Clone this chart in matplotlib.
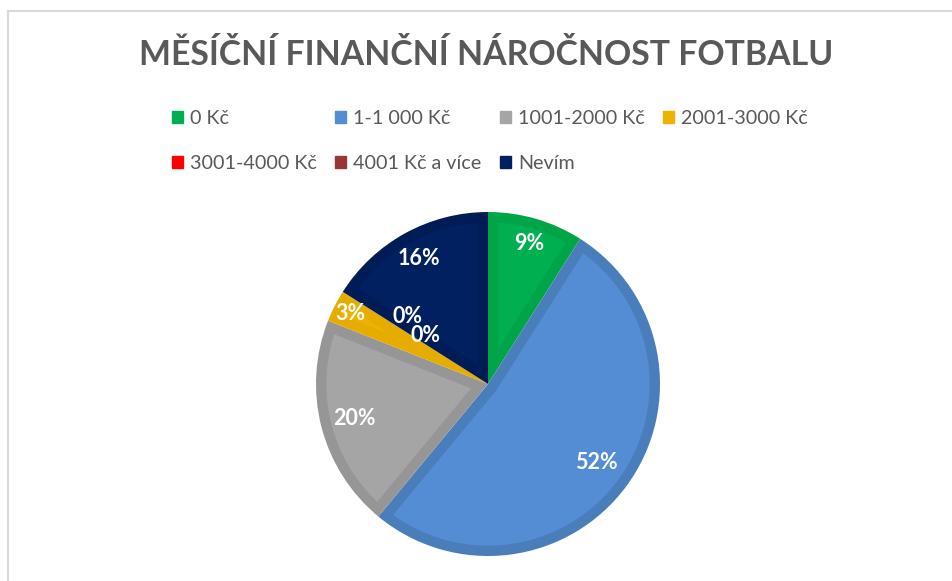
import numpy as np
import matplotlib
matplotlib.use("Agg")
import matplotlib.pyplot as plt
from matplotlib.patches import Patch, Polygon
from matplotlib.lines import Line2D

# ---- data ----
categories = ["0 Kč", "1-1 000 Kč", "1001-2000 Kč", "2001-3000 Kč",
              "3001-4000 Kč", "4001 Kč a více", "Nevím"]
values = [9, 52, 20, 3, 0, 0, 16]
label_texts = ["9%", "52%", "20%", "3%", "0%", "0%", "16%"]
title = "MĚSÍČNÍ FINANČNÍ NÁROČNOST FOTBALU"

# ---- style ----
fill_colors = ["#00B050", "#548DD4", "#A5A5A5", "#EEB200", "#FF0000", "#953735", "#002060"]
edge_colors = ["#00A548", "#4A7EBB", "#969696", "#E6AC00", "#E00000", "#863231", "#001C56"]
label_dist = [0.85, 0.78, 0.80, 0.90, 0.61, 0.46, 0.83]
label_angle_shift = [0, 0, 0, 0, -7.5, -5, 0]
FONT = "Lato"
TEXT_GRAY = "#595959"
BORDER = 0.06  # border width as fraction of radius

W, H = 952, 581
fig = plt.figure(figsize=(W / 100, H / 100), dpi=100)
fig.patch.set_facecolor("white")

# chart frame (left & top light gray lines)
fig.add_artist(Line2D([7.5 / W, 7.5 / W], [0, 1 - 11 / H], transform=fig.transFigure,
                      color="#D9D9D9", lw=1.5))
fig.add_artist(Line2D([7.5 / W, 1], [1 - 11 / H, 1 - 11 / H], transform=fig.transFigure,
                      color="#D9D9D9", lw=1.5))

# pie axes
cx, cy, r = 488, 384, 172
ax = fig.add_axes([(cx - r) / W, 1 - (cy + r) / H, 2 * r / W, 2 * r / H])
wedges, _ = ax.pie(values, colors=edge_colors, startangle=90, counterclock=False,
                   radius=1.0, wedgeprops=dict(linewidth=0))


def inset_polygon(t1, t2, d, R=1.0):
    """Inner region of wedge (t1..t2 degrees, ccw) inset by d on all sides."""
    a1, a2 = np.deg2rad(t1), np.deg2rad(t2)
    half = (a2 - a1) / 2
    mid = a1 + half
    P = d / np.sin(half) * np.array([np.cos(mid), np.sin(mid)])
    ends = []
    for a in (a1, a2):
        u = np.array([np.cos(a), np.sin(a)])
        b = P @ u
        c = P @ P - (R - d) ** 2
        s = -b + np.sqrt(b * b - c)
        ends.append(P + s * u)
    e1 = np.arctan2(ends[0][1], ends[0][0])
    e2 = np.arctan2(ends[1][1], ends[1][0])
    while e2 < e1:
        e2 += 2 * np.pi
    arc = np.linspace(e1, e2, 200)
    pts = [P] + [(R - d) * np.array([np.cos(t), np.sin(t)]) for t in arc]
    return np.array(pts)


for w, v, fc in zip(wedges, values, fill_colors):
    if v == 0:
        w.set_visible(False)
        continue
    half = np.deg2rad(w.theta2 - w.theta1) / 2
    if BORDER / np.sin(half) < 1 - BORDER:
        ax.add_patch(Polygon(inset_polygon(w.theta1, w.theta2, BORDER),
                             closed=True, facecolor=fc, edgecolor="none"))

ax.set_xlim(-1, 1)
ax.set_ylim(-1, 1)
ax.set_aspect("equal")
ax.axis("off")

for w, txt, d, sh in zip(wedges, label_texts, label_dist, label_angle_shift):
    mid = np.deg2rad((w.theta1 + w.theta2) / 2 + sh)
    ax.text(d * np.cos(mid), d * np.sin(mid), txt, ha="center", va="center",
            color="white", fontsize=15.5, fontweight="bold", family=FONT)

# title
fig.text(486 / W, 1 - 55 / H, title, ha="center", va="center",
         fontsize=24.3, fontweight="bold", color=TEXT_GRAY, family=FONT)

# legend (row-major order in 4 columns)
handles = [Patch(facecolor=c, edgecolor=c) for c in fill_colors]
order = [0, 4, 1, 5, 2, 6, 3]
leg = fig.legend([handles[i] for i in order], [categories[i] for i in order],
                 ncol=4, loc="center", bbox_to_anchor=(490 / W, 1 - 141 / H),
                 frameon=False, handlelength=0.55, handleheight=0.55, handletextpad=0.35,
                 columnspacing=0.95, labelspacing=1.45,
                 prop=dict(family=FONT, size=14.2))
for t in leg.get_texts():
    t.set_color(TEXT_GRAY)

fig.savefig("out.png", dpi=100, facecolor="white")
